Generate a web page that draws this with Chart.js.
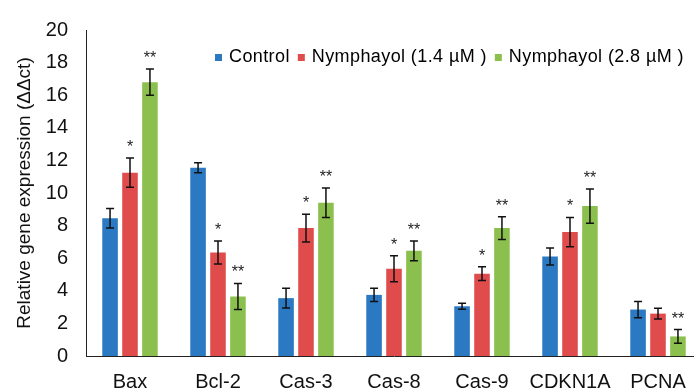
<!DOCTYPE html>
<html>
<head>
<meta charset="utf-8">
<script src="https://cdn.jsdelivr.net/npm/chart.js@4"></script>
<style>
  html, body { margin: 0; padding: 0; background: #fff; overflow: hidden; width: 694px; height: 390px; }
  canvas { display: block; }
</style>
</head>
<body>
<canvas id="c" width="702" height="390"></canvas>
<script>
const categories = ['Bax', 'Bcl-2', 'Cas-3', 'Cas-8', 'Cas-9', 'CDKN1A', 'PCNA'];
const seriesNames = ['Control', 'Nymphayol (1.4 \u00B5M )', 'Nymphayol (2.8 \u00B5M )'];
const control     = [8.45, 11.55, 3.55, 3.75, 3.05, 6.1, 2.85];
const controlErr  = [0.6, 0.3, 0.6, 0.4, 0.18, 0.52, 0.5];
const nym14       = [11.25, 6.35, 7.85, 5.35, 5.05, 7.6, 2.6];
const nym14Err    = [0.9, 0.7, 0.85, 0.8, 0.42, 0.9, 0.33];
const nym28       = [16.8, 3.65, 9.4, 6.45, 7.85, 9.2, 1.2];
const nym28Err    = [0.8, 0.8, 0.9, 0.6, 0.7, 1.05, 0.42];
const controlSig  = ['', '', '', '', '', '', ''];
const nym14Sig    = ['*', '*', '*', '*', '*', '*', ''];
const nym28Sig    = ['**', '**', '**', '**', '**', '**', '**'];
const yTicks      = [0, 2, 4, 6, 8, 10, 12, 14, 16, 18, 20];

const colors = ['#2A79C2', '#E04C4C', '#8CC04E'];
const FONT = '"Liberation Sans", Arial, sans-serif';

const errs = [controlErr, nym14Err, nym28Err];
const sigs = [controlSig, nym14Sig, nym28Sig];

const errorBarPlugin = {
  id: 'errorBars',
  afterDatasetsDraw(chart) {
    const ctx = chart.ctx;
    const y = chart.scales.y;
    ctx.save();
    chart.data.datasets.forEach((ds, di) => {
      const meta = chart.getDatasetMeta(di);
      meta.data.forEach((bar, i) => {
        const v = ds.data[i];
        const e = errs[di][i];
        const top = y.getPixelForValue(v + e);
        const bot = y.getPixelForValue(v - e);
        const x = bar.x;
        ctx.strokeStyle = '#111';
        ctx.lineWidth = 1.5;
        ctx.beginPath();
        ctx.moveTo(x, top); ctx.lineTo(x, bot);
        ctx.moveTo(x - 4, top); ctx.lineTo(x + 4, top);
        ctx.moveTo(x - 4, bot); ctx.lineTo(x + 4, bot);
        ctx.stroke();
        const s = sigs[di][i];
        if (s) {
          ctx.fillStyle = '#222';
          ctx.font = '16px ' + FONT;
          ctx.textAlign = 'center';
          ctx.textBaseline = 'alphabetic';
          ctx.fillText(s, x, top - 6);
        }
      });
    });
    ctx.restore();
  }
};

const legendPlugin = {
  id: 'customLegend',
  afterDraw(chart) {
    const ctx = chart.ctx;
    ctx.save();
    ctx.font = '18px ' + FONT;
    if ('letterSpacing' in ctx) ctx.letterSpacing = '0.4px';
    ctx.textBaseline = 'middle';
    ctx.textAlign = 'left';
    let x = 215;
    chart.data.datasets.forEach((ds) => {
      ctx.fillStyle = ds.backgroundColor;
      ctx.fillRect(x, 54, 7, 7);
      ctx.fillStyle = '#000';
      ctx.fillText(ds.label, x + 14, 57.5);
      x += 14 + ctx.measureText(ds.label).width + 8;
    });
    ctx.restore();
  }
};

new Chart(document.getElementById('c'), {
  type: 'bar',
  data: {
    labels: categories,
    datasets: [
      { label: seriesNames[0], data: control, backgroundColor: colors[0] },
      { label: seriesNames[1], data: nym14, backgroundColor: colors[1] },
      { label: seriesNames[2], data: nym28, backgroundColor: colors[2] }
    ]
  },
  options: {
    responsive: false,
    animation: false,
    devicePixelRatio: 1,
    layout: { padding: { top: 27, right: 0, left: 0, bottom: 0 } },
    datasets: { bar: { categoryPercentage: 0.68, barPercentage: 0.78 } },
    plugins: { legend: { display: false }, tooltip: { enabled: false } },
    scales: {
      x: {
        grid: { display: false, drawTicks: false },
        border: { display: true, color: '#222', width: 1 },
        ticks: { color: '#111', font: { size: 20, family: FONT }, padding: 14, maxRotation: 0, autoSkip: false },
        afterFit(scale) { scale.height = 34; }
      },
      y: {
        min: 0, max: 20,
        afterBuildTicks(scale) { scale.ticks = yTicks.map(v => ({ value: v })); },
        grid: { display: false, drawTicks: false },
        border: { display: true, color: '#222', width: 1 },
        ticks: { color: '#111', font: { size: 20, family: FONT }, padding: 18 },
        title: {
          display: true,
          text: 'Relative gene expression (\u0394\u0394ct)',
          color: '#111',
          font: { size: 19, family: FONT, weight: 'normal' },
          padding: { top: 13, bottom: 0 }
        },
        afterFit(scale) { scale.width = 86; }
      }
    }
  },
  plugins: [errorBarPlugin, legendPlugin]
});
</script>
</body>
</html>
